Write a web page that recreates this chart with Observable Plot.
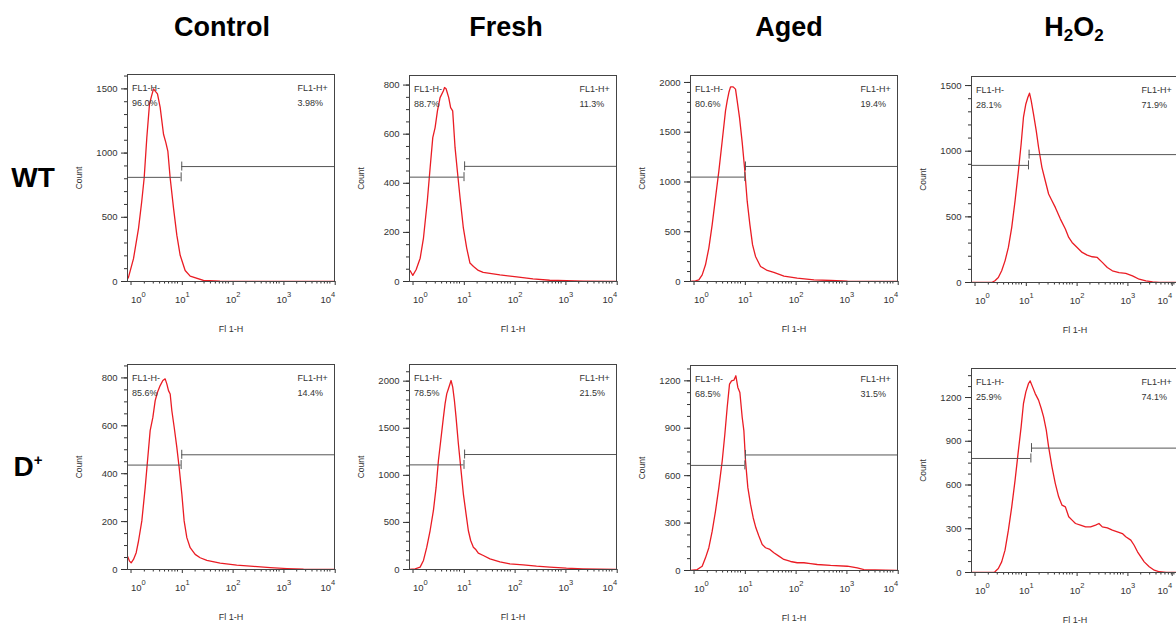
<!DOCTYPE html>
<html><head><meta charset="utf-8">
<script src="https://cdn.jsdelivr.net/npm/d3@7"></script>
<script src="https://cdn.jsdelivr.net/npm/@observablehq/plot@0.6"></script>
<style>
html,body{margin:0;padding:0;background:#fff;overflow:hidden;}
#root{position:relative;width:1176px;height:624px;overflow:hidden;font-family:"Liberation Sans",Arial,sans-serif;}
.title{position:absolute;font-weight:bold;font-size:27px;line-height:27px;color:#000;white-space:nowrap;transform:translateX(-50%);}
.title sub{font-size:17px;vertical-align:-5px;line-height:0;}
.title sup{font-size:15px;vertical-align:11px;line-height:0;}
.panel{position:absolute;}
.panel svg{overflow:visible;max-width:none !important;height:auto;display:block;}
</style></head><body><div id="root"></div>
<script>
// ---- categories / labels ----
const columns = ["Control", "Fresh", "Aged", "H<sub>2</sub>O<sub>2</sub>"];
const rows = ["WT", "D<sup>+</sup>"];
const negLabel = "FL1-H-", posLabel = "FL1-H+";
const negPct = ["96.0%", "88.7%", "80.6%", "28.1%", "85.6%", "78.5%", "68.5%", "25.9%"];
const posPct = ["3.98%", "11.3%", "19.4%", "71.9%", "14.4%", "21.5%", "31.5%", "74.1%"];
const xTicks = [1, 10, 100, 1000, 10000];
const yTicks = [
  [0, 500, 1000, 1500], [0, 200, 400, 600, 800], [0, 500, 1000, 1500, 2000], [0, 500, 1000, 1500],
  [0, 200, 400, 600, 800], [0, 500, 1000, 1500, 2000], [0, 300, 600, 900, 1200], [0, 300, 600, 900, 1200]
];
const yMax = [1612, 839, 2070, 1569, 856, 2177, 1297, 1399];
// gates: log10 FL1-H boundary, count level of negative & positive gate bars
const gateX = [1.026, 1.043, 1.04, 1.092, 1.026, 1.043, 1.04, 1.139];
const gateNegY = [811, 425, 1049, 892, 436, 1111, 665, 782];
const gatePosY = [895, 469, 1156, 974, 479, 1221, 731, 853];

// ---- histogram series: [log10(FL1-H), count] ----
const wtControl = [[-0.03,20],[-0.01,34],[0.088,178],[0.187,414],[0.25,623],[0.298,806],[0.35,1120],[0.403,1382],[0.44,1440],[0.482,1500],[0.52,1480],[0.56,1461],[0.613,1356],[0.679,1147],[0.725,1081],[0.764,1016],[0.81,806],[0.876,571],[0.941,361],[1.007,204],[1.105,86],[1.204,42],[1.466,8],[1.79,3],[2.5,1],[4.04,0]];
const wtFresh = [[-0.03,40],[-0.017,44],[0.035,25],[0.10,48],[0.18,95],[0.245,177],[0.32,327],[0.376,463],[0.428,586],[0.474,627],[0.52,695],[0.572,749],[0.638,777],[0.66,790],[0.69,785],[0.742,749],[0.78,708],[0.82,695],[0.867,545],[0.912,450],[0.965,341],[1.03,218],[1.096,136],[1.16,75],[1.23,61],[1.325,45],[1.42,37],[1.75,27],[2.08,19],[2.4,11],[2.73,5],[3.06,3],[3.39,1],[4.04,0]];
const wtAged = [[-0.03,0],[0.068,7],[0.134,17],[0.2,67],[0.265,168],[0.331,336],[0.397,571],[0.462,840],[0.528,1109],[0.594,1412],[0.659,1714],[0.692,1815],[0.725,1899],[0.758,1956],[0.81,1956],[0.856,1933],[0.889,1815],[0.935,1647],[0.988,1395],[1.034,1143],[1.086,807],[1.139,571],[1.191,370],[1.25,252],[1.349,151],[1.48,111],[1.61,91],[1.81,54],[2.07,34],[2.4,17],[2.73,10],[3.06,3],[4.04,0]];
const wtH2O2 = [[-0.03,0],[0.366,0],[0.432,13],[0.498,38],[0.564,89],[0.63,165],[0.696,267],[0.762,420],[0.828,623],[0.894,852],[0.947,1055],[0.993,1259],[1.04,1360],[1.08,1411],[1.112,1442],[1.145,1386],[1.19,1284],[1.244,1157],[1.29,1030],[1.356,877],[1.422,775],[1.488,674],[1.554,623],[1.62,572],[1.72,483],[1.818,407],[1.884,343],[1.95,305],[2.05,267],[2.149,229],[2.248,208],[2.347,196],[2.446,191],[2.545,153],[2.644,114],[2.743,89],[2.875,76],[3.007,69],[3.139,51],[3.271,25],[3.403,13],[3.535,5],[3.667,0],[4.04,0]];
const dControl = [[-0.03,55],[-0.017,49],[0.009,35],[0.042,28],[0.088,42],[0.141,70],[0.187,119],[0.252,203],[0.318,342],[0.364,454],[0.416,580],[0.469,635],[0.515,705],[0.56,740],[0.613,768],[0.666,789],[0.711,796],[0.744,775],[0.777,747],[0.81,733],[0.843,663],[0.889,594],[0.941,510],[0.987,426],[1.04,314],[1.085,203],[1.138,133],[1.204,91],[1.302,63],[1.40,49],[1.532,38],[1.794,27],[2.12,18],[2.45,13],[2.78,8],[3.11,4],[3.435,1],[4.04,0]];
const dFresh = [[-0.03,0],[0.081,7],[0.179,25],[0.245,96],[0.31,237],[0.376,414],[0.441,627],[0.494,874],[0.539,1158],[0.585,1370],[0.638,1618],[0.67,1759],[0.703,1865],[0.736,1919],[0.768,1972],[0.788,2007],[0.821,1936],[0.854,1795],[0.886,1618],[0.932,1335],[0.978,1087],[1.03,804],[1.083,591],[1.128,414],[1.174,308],[1.227,237],[1.279,209],[1.325,173],[1.423,149],[1.554,113],[1.75,81],[1.946,60],[2.208,50],[2.47,35],[2.732,25],[3.059,14],[3.386,7],[4.04,0]];
const dAged = [[-0.03,0],[0.101,6],[0.2,27],[0.265,80],[0.331,144],[0.397,249],[0.462,376],[0.528,524],[0.594,693],[0.646,862],[0.692,1031],[0.738,1179],[0.778,1200],[0.824,1204],[0.863,1232],[0.902,1158],[0.942,1126],[0.988,968],[1.021,883],[1.053,693],[1.099,524],[1.152,418],[1.204,334],[1.257,270],[1.316,218],[1.382,165],[1.447,144],[1.533,133],[1.611,112],[1.71,91],[1.808,70],[1.94,57],[2.071,49],[2.202,49],[2.334,44],[2.465,38],[2.728,32],[3.056,27],[3.253,17],[3.384,6],[4.04,0]];
const dH2O2 = [[-0.03,0],[0.4,0],[0.432,5],[0.498,27],[0.564,73],[0.63,153],[0.696,290],[0.762,450],[0.828,633],[0.894,839],[0.947,999],[0.993,1159],[1.04,1239],[1.092,1296],[1.125,1314],[1.172,1273],[1.224,1227],[1.29,1182],[1.343,1125],[1.389,1067],[1.442,976],[1.488,862],[1.554,725],[1.62,610],[1.686,519],[1.752,462],[1.818,450],[1.884,382],[1.95,359],[2.017,336],[2.115,325],[2.215,313],[2.314,313],[2.413,325],[2.479,336],[2.545,313],[2.644,306],[2.743,290],[2.842,279],[2.94,267],[3.007,245],[3.106,222],[3.172,187],[3.238,142],[3.304,107],[3.37,73],[3.469,39],[3.568,16],[3.667,5],[3.8,0],[4.04,0]];
const curves = [wtControl, wtFresh, wtAged, wtH2O2, dControl, dFresh, dAged, dH2O2];

// ---- layout ----
const root = document.getElementById("root");
const frameLeft = [127, 409, 690, 971];
const frameTop = [[74, 74.5, 74.5, 76], [364, 364, 364.5, 368]];
const frameH = [[207, 206, 206, 206], [205, 205, 205, 204]];
const frameW = 207;
const ML = 62, MR = 8, MT = 4, MB = 58;
const xDomain = [0.933, 11092];
const red = "#ea1c24", gateColor = "#555";
const font = "'Liberation Sans', Arial, sans-serif";
const titleX = [222, 506, 789, 1074];
const rowY = [164, 453], rowX = [33, 28];

columns.forEach((c, i) => {
  const d = document.createElement("div");
  d.className = "title"; d.innerHTML = c;
  d.style.left = titleX[i] + "px"; d.style.top = "14px";
  root.appendChild(d);
});
rows.forEach((r, i) => {
  const d = document.createElement("div");
  d.className = "title"; d.innerHTML = r; d.style.fontSize = "28px";
  d.style.left = rowX[i] + "px"; d.style.top = rowY[i] + "px";
  root.appendChild(d);
});

function minorY(ticks) {
  const step = ticks[1] - ticks[0];
  const sub = step === 500 ? 5 : 4;
  const out = [];
  for (let v = 0; v <= ticks[ticks.length - 1] + step; v += step / sub) out.push(v);
  return out;
}
const minorX = [];
for (let e = -1; e < 5; e++) for (let k = 2; k <= 9; k++) minorX.push(k * 10 ** e);
const fmtX = d => "10^" + Math.round(Math.log10(d));

for (let i = 0; i < 8; i++) {
  const r = Math.floor(i / 4), c = i % 4;
  const h = frameH[r][c];
  const ymax = yMax[i];
  const delta = ymax * 4.5 / h;
  const gx = 10 ** gateX[i];
  const gx2 = 10 ** (gateX[i] + 0.012);
  const axOpts = {tickSize: 4, tickPadding: 11, fontSize: 9.5, tickFormat: fmtX, label: null};
  const W = ML + frameW + MR, H = MT + h + MB;
  const svg = Plot.plot({
    width: W, height: H,
    marginLeft: ML, marginRight: MR, marginTop: MT, marginBottom: MB,
    style: {fontFamily: font, color: "#333", background: "transparent"},
    x: {type: "log", domain: xDomain},
    y: {domain: [0, ymax]},
    marks: [
      Plot.axisY(minorY(yTicks[i]).filter(v => v <= ymax), {tickSize: 3, tickFormat: () => "", label: null}),
      Plot.axisY(yTicks[i], {tickSize: 6, tickPadding: 4, fontSize: 9.5, tickFormat: d => String(d), label: "Count", labelAnchor: "center", labelOffset: 52, labelArrow: "none"}),
      Plot.axisX(minorX.filter(v => v >= xDomain[0] && v <= xDomain[1]), {tickSize: 2.5, tickFormat: () => "", label: null}),
      Plot.axisX([xTicks[0]], {...axOpts, textAnchor: "start", dx: 2}),
      Plot.axisX(xTicks.slice(1, -1), {...axOpts, dx: 2.5, label: "Fl 1-H", labelAnchor: "center", labelOffset: 50, labelArrow: "none"}),
      Plot.axisX([xTicks[4]], {...axOpts, textAnchor: "end", dx: c === 3 ? -4 : 3}),
      Plot.line(curves[i], {x: d => 10 ** d[0], y: d => d[1], stroke: red, strokeWidth: 1.3, clip: true}),
      Plot.ruleY([gateNegY[i]], {x1: xDomain[0], x2: gx, stroke: gateColor, strokeWidth: 1}),
      Plot.ruleX([gx], {y1: gateNegY[i] - delta, y2: gateNegY[i] + delta, stroke: gateColor, strokeWidth: 1}),
      Plot.ruleY([gatePosY[i]], {x1: gx2, x2: xDomain[1], stroke: gateColor, strokeWidth: 1}),
      Plot.ruleX([gx2], {y1: gatePosY[i] - delta, y2: gatePosY[i] + delta, stroke: gateColor, strokeWidth: 1}),
      Plot.text([negLabel + "\n" + negPct[i]], {frameAnchor: "top-left", dx: 4.5, dy: 5, fontSize: 9, lineHeight: 1.75, fill: "#333"}),
      Plot.text([posLabel + "\n" + posPct[i]], {frameAnchor: "top-right", textAnchor: "start", dx: -37, dy: 5, fontSize: 9, lineHeight: 1.75, fill: "#333"}),
      Plot.frame({stroke: "#444", strokeWidth: 1})
    ]
  });
  svg.style.width = W + "px";
  svg.style.height = H + "px";
  // superscript exponents on decade labels
  svg.querySelectorAll('g[aria-label="x-axis tick label"] text').forEach(t => {
    const s = t.textContent;
    if (!s.includes("^")) return;
    const [b, e] = s.split("^");
    t.textContent = b;
    const ts = document.createElementNS("http://www.w3.org/2000/svg", "tspan");
    ts.setAttribute("dy", "-6.5");
    ts.setAttribute("font-size", "7.5");
    ts.textContent = e;
    t.appendChild(ts);
  });
  svg.querySelectorAll('g[aria-label="x-axis label"] text').forEach(t => t.setAttribute("font-size", "9"));
  svg.querySelectorAll('g[aria-label="y-axis label"] text').forEach(t => t.setAttribute("font-size", "8.5"));
  const div = document.createElement("div");
  div.className = "panel";
  div.style.left = (frameLeft[c] - ML) + "px";
  div.style.top = (frameTop[r][c] - MT) + "px";
  div.style.width = W + "px";
  div.style.height = H + "px";
  div.appendChild(svg);
  root.appendChild(div);
}
</script></body></html>
